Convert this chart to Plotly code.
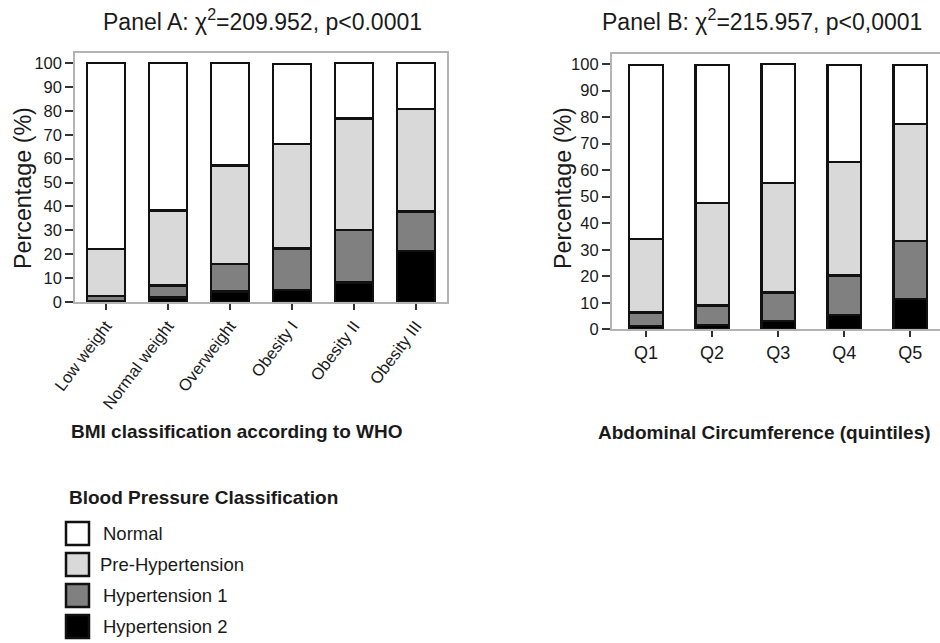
import plotly.graph_objects as go

W, H = 940, 643

# ---------------- data ----------------
bmi_categories = ["Low weight", "Normal weight", "Overweight", "Obesity I", "Obesity II", "Obesity III"]
ac_categories = ["Q1", "Q2", "Q3", "Q4", "Q5"]

series_names = ["Hypertension 2", "Hypertension 1", "Pre-Hypertension", "Normal"]
series_colors = ["#000000", "#808080", "#d9d9d9", "#ffffff"]

# Panel A (BMI) – percentages per class
bmi_h2 = [0.5, 1.8, 4.3, 5.0, 8.2, 21.3]
bmi_h1 = [2.0, 5.2, 11.6, 17.3, 21.9, 16.6]
bmi_pre = [19.7, 31.2, 41.3, 43.9, 46.7, 42.8]
bmi_normal = [77.8, 61.8, 42.8, 33.3, 23.2, 19.3]

# Panel B (abdominal circumference quintiles)
ac_h2 = [1.2, 1.7, 3.1, 5.4, 11.5]
ac_h1 = [5.2, 7.2, 10.8, 14.8, 21.8]
ac_pre = [27.6, 38.7, 41.2, 42.9, 44.1]
ac_normal = [65.6, 52.0, 44.9, 36.5, 22.2]

y_ticks = [0, 10, 20, 30, 40, 50, 60, 70, 80, 90, 100]

title_a = "Panel A: χ<sup>2</sup>=209.952, p&lt;0.0001"
title_b = "Panel B: χ<sup>2</sup>=215.957, p&lt;0,0001"
xtitle_a = "BMI classification according to WHO"
xtitle_b = "Abdominal Circumference (quintiles)"
ytitle = "Percentage (%)"
legend_title = "Blood Pressure Classification"

# ---------------- helpers ----------------
def px(x):
    return x / W

def py(y):
    return 1 - y / H

FONT = "Liberation Sans, Arial, sans-serif"
TXT = "#1a1a1a"

fig = go.Figure()

bmi_series = [bmi_h2, bmi_h1, bmi_pre, bmi_normal]
ac_series = [ac_h2, ac_h1, ac_pre, ac_normal]

for name, color, vals in zip(series_names, series_colors, bmi_series):
    fig.add_trace(go.Bar(
        x=bmi_categories, y=vals, name=name, width=0.62,
        marker=dict(color=color, line=dict(color="#111111", width=2.5)),
        xaxis="x", yaxis="y", showlegend=False,
    ))

for name, color, vals in zip(series_names, series_colors, ac_series):
    fig.add_trace(go.Bar(
        x=ac_categories, y=vals, name=name, width=0.51,
        marker=dict(color=color, line=dict(color="#111111", width=2.5)),
        xaxis="x2", yaxis="y2", showlegend=False,
    ))

frame = "#b3b3b3"
tick_font = dict(family=FONT, size=16.5, color=TXT)

fig.update_layout(
    width=W, height=H, autosize=False,
    margin=dict(l=0, r=0, t=0, b=0, pad=0, autoexpand=False),
    paper_bgcolor="white", plot_bgcolor="white",
    barmode="stack",
    font=dict(family=FONT, color=TXT),
    xaxis=dict(
        domain=[px(75), px(447)], range=[-0.5, 5.5], anchor="y", automargin=False,
        showline=True, linecolor=frame, linewidth=1.5, mirror=True,
        ticks="outside", ticklen=6, tickcolor="#333333", tickwidth=1.5,
        tickangle=-53, tickfont=dict(family=FONT, size=16.5, color=TXT),
        showgrid=False, zeroline=False,
    ),
    yaxis=dict(
        domain=[py(302), py(53)], range=[0, 104.2], anchor="x", automargin=False,
        showline=True, linecolor=frame, linewidth=1.5, mirror=True,
        ticks="outside", ticklen=8, tickcolor="#333333", tickwidth=1.5,
        tickvals=y_ticks, tickfont=tick_font,
        showgrid=False, zeroline=False,
    ),
    xaxis2=dict(
        domain=[px(611.7), 1.0], range=[-0.52, 4.45], anchor="y2", automargin=False,
        showline=True, linecolor=frame, linewidth=1.5, mirror=True,
        ticks="outside", ticklen=6, tickcolor="#333333", tickwidth=1.5,
        tickfont=dict(family=FONT, size=18, color=TXT),
        showgrid=False, zeroline=False,
    ),
    yaxis2=dict(
        domain=[py(329.3), py(54)], range=[0, 103.8], anchor="x2", automargin=False,
        showline=True, linecolor=frame, linewidth=1.5, mirror=False,
        ticks="outside", ticklen=8, tickcolor="#333333", tickwidth=1.5,
        tickvals=y_ticks, tickfont=tick_font,
        showgrid=False, zeroline=False,
    ),
)

ann = []
# panel titles
ann.append(dict(text=title_a, x=px(262), y=py(20), xref="paper", yref="paper",
                showarrow=False, xanchor="center", yanchor="middle",
                font=dict(family=FONT, size=23, color=TXT)))
ann.append(dict(text=title_b, x=px(762), y=py(20), xref="paper", yref="paper",
                showarrow=False, xanchor="center", yanchor="middle",
                font=dict(family=FONT, size=23, color=TXT)))
# y titles
for xc in (23, 563):
    ann.append(dict(text=ytitle, x=px(xc), y=py(188), xref="paper", yref="paper",
                    showarrow=False, textangle=-90, xanchor="center", yanchor="middle",
                    font=dict(family=FONT, size=23.3, color=TXT)))
# x titles
ann.append(dict(text="<b>" + xtitle_a + "</b>", x=px(237), y=py(431), xref="paper", yref="paper",
                showarrow=False, xanchor="center", yanchor="middle",
                font=dict(family=FONT, size=19, color=TXT)))
ann.append(dict(text="<b>" + xtitle_b + "</b>", x=px(764), y=py(432), xref="paper", yref="paper",
                showarrow=False, xanchor="center", yanchor="middle",
                font=dict(family=FONT, size=19, color=TXT)))
# legend title
ann.append(dict(text="<b>" + legend_title + "</b>", x=px(67), y=py(497), xref="paper", yref="paper",
                showarrow=False, xanchor="left", yanchor="middle",
                font=dict(family=FONT, size=19, color=TXT)))

shapes = []
legend_order = list(zip(series_names, series_colors))[::-1]  # Normal first
box_top0, step, box = 522, 31, 23
for i, (name, color) in enumerate(legend_order):
    top = box_top0 + i * step
    shapes.append(dict(type="rect", xref="paper", yref="paper",
                       x0=px(66), x1=px(66 + box), y0=py(top + box), y1=py(top),
                       fillcolor=color, line=dict(color="#111111", width=2.5)))
    ann.append(dict(text=name, x=px(101 if name != "Pre-Hypertension" else 98),
                    y=py(top + box / 2), xref="paper", yref="paper",
                    showarrow=False, xanchor="left", yanchor="middle",
                    font=dict(family=FONT, size=18.5, color=TXT)))

fig.update_layout(annotations=ann, shapes=shapes)

fig.write_html(
    "out.html",
    config={"displayModeBar": False},
    post_script="document.body.style.margin='0px';document.body.style.overflow='hidden';",
)
